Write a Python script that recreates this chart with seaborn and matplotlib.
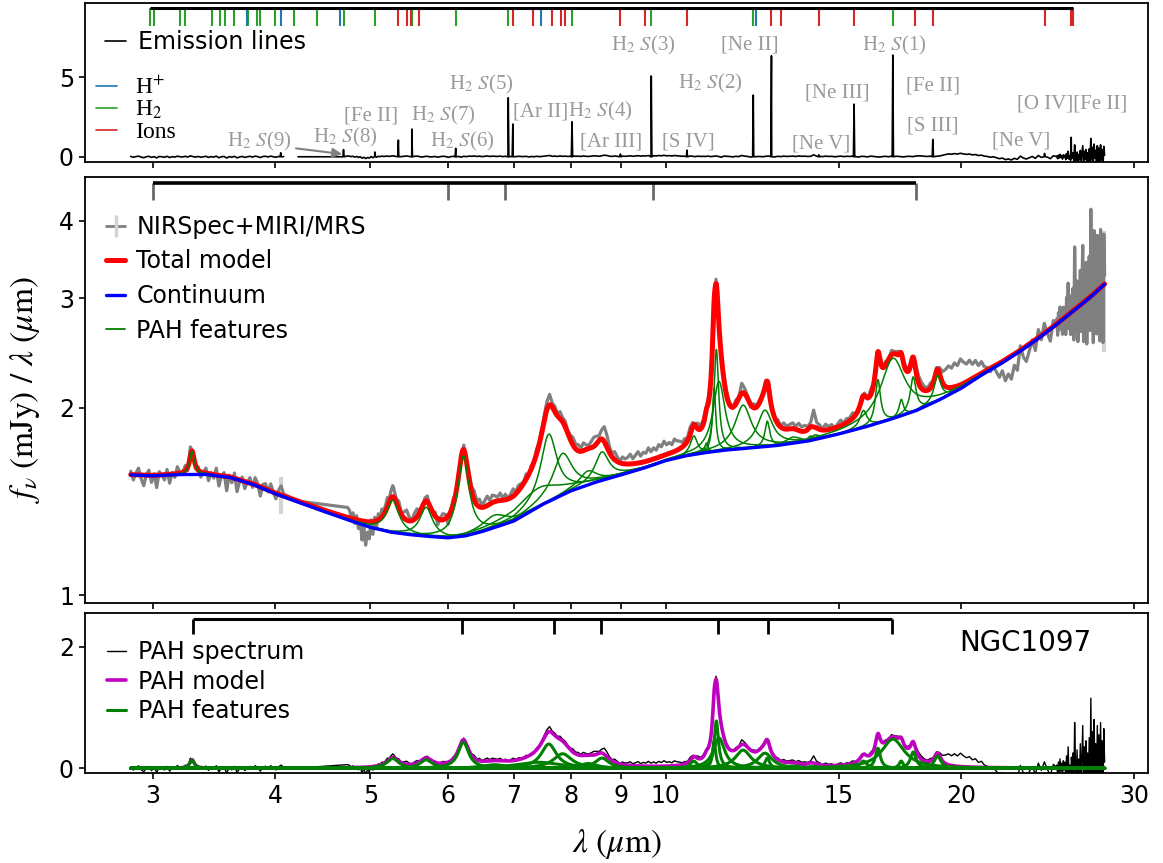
import numpy as np
import matplotlib
matplotlib.use("Agg")
import matplotlib.pyplot as plt
from matplotlib.lines import Line2D
from matplotlib.ticker import NullLocator
import seaborn as sns

# ---------------------------------------------------------------- data
# Fitted dust + stellar continuum, f_nu / lambda in mJy / um
cont_wave = [2.85, 3.0, 3.2, 3.4, 3.6, 3.8, 4.0, 4.25, 4.5, 4.75, 5.0, 5.25,
             5.5, 5.75, 6.0, 6.25, 6.5, 6.75, 7.0, 7.5, 8.0, 8.5, 9.0, 9.5,
             10.0, 10.5, 11.0, 11.5, 12.0, 13.0, 14.0, 15.0, 16.0, 17.0, 18.0,
             19.0, 20.0, 21.0, 22.0, 23.0, 24.0, 25.0, 26.0, 27.0, 28.0]
cont_flux = [1.560, 1.555, 1.562, 1.563, 1.545, 1.505, 1.455, 1.405, 1.360,
             1.320, 1.285, 1.262, 1.250, 1.242, 1.236, 1.245, 1.265, 1.290,
             1.315, 1.400, 1.470, 1.520, 1.560, 1.600, 1.645, 1.675, 1.695,
             1.710, 1.720, 1.740, 1.770, 1.815, 1.865, 1.920, 1.980, 2.060,
             2.150, 2.260, 2.360, 2.470, 2.590, 2.720, 2.860, 3.000, 3.160]

# PAH Drude components: centre (um), FWHM (um), peak (mJy / um)
pah_wave = [3.29, 5.27, 5.70, 6.22, 6.69, 7.42, 7.60, 7.85, 8.33, 8.61,
            10.68, 11.00, 11.20, 11.26, 11.33, 11.99, 12.62, 12.69, 13.48,
            14.04, 14.19, 15.90, 16.45, 17.04, 17.375, 17.87, 18.92]
pah_fwhm = [0.043, 0.179, 0.200, 0.187, 0.468, 0.935, 0.334, 0.416, 0.417,
            0.336, 0.214, 0.100, 0.100, 0.135, 0.363, 0.540, 0.530, 0.165,
            0.539, 0.225, 0.355, 0.318, 0.230, 1.108, 0.209, 0.286, 0.359]
pah_peak = [0.14, 0.16, 0.14, 0.43, 0.06, 0.10, 0.40, 0.24, 0.08, 0.17,
            0.12, 0.06, 0.45, 0.78, 0.50, 0.30, 0.25, 0.17, 0.04, 0.03,
            0.03, 0.12, 0.33, 0.48, 0.12, 0.27, 0.20]

# Observed spectrum: wavelength ranges of each chunk and the residual
# about the model in each chunk (units of 0.01 mJy / um)
seg_edges = [(2.85, 4.08), (4.22, 4.74), (4.76, 5.27), (5.28, 11.6),
             (11.62, 25.0), (25.03, 28.0)]
resid_nirspec_1 = [2, -3, 1, 4, -2, -6, 0, 3, -4, 1,
                   -7, 2, 0, -3, 3, -5, 1, -2, 4, 0,
                   -1, 3, -2, 6, 1, -2, 2, -3, 0, 3,
                   -4, 1, -2, 4, -6, 0, 2, -8, 1, -3,
                   3, -7, -1, 2, -4, 0, 3, -2, 4, 1,
                   -5, 2, 3, -1, 4, 0, -3, 2, 5, 1]
resid_nirspec_2 = [0, 5]
resid_nirspec_3 = [4, 1, 3, -2, 2, -4, 0, -9, -3, -11, -5, -8, 1, -6, 2,
                   -3, 3, 1, 4, 2, 3, 5, 2, 4, 6]
resid_miri_1 = [5, 2, 4, 1, 3, 5, 2, 0, 3, 4,
                1, -2, 2, 3, -1, 0, 2, -3, 1, 3,
                2, -4, 1, 3, 0, 2, -2, 3, 1, 4,
                3, 5, 2, 4, 1, 3, 5, 2, 4, 3,
                2, 4, 1, 3, 0, 2, 4, 1, 3, 2,
                1, 3, -1, 2, 0, 3, 1, 2, 4, 6,
                8, 3, 4, 2, 5, 3, 4, 2, 3, 5,
                3, 4, 2, 5, 3, 2, 4, 6, 5, 3,
                6, 10, 8, 4, 2, 5, 3, 1, 4, 3,
                4, 6, 3, 5, 7, 4, 6, 5, 8, 5,
                7, 5, 8, 6, 9, 6, 7, 5, 8, 6,
                5, 3, 4, 2, 5, 3, 1, 4, 2, 3,
                2, 4, 1, 3, 5, 2, -3, 4, 3, 2]
resid_miri_2 = [2, -1, 3, 1, 8, 4, 2, -2, 3, 1,
                2, 0, 3, 5, 2, -1, 3, 1, 4, 2,
                3, 4, 2, 5, 3, 4, 2, 3, 12, 4,
                3, 1, 4, 2, 3, 0, 2, 4, 1, 3,
                2, 4, 1, -2, 3, 2, -1, 4, 2, 0,
                -2, 1, 3, 0, 4, 2, 3, 1, -1, 2,
                3, 1, 4, 6, 5, 3, 2, 4, 1, 3,
                5, 9, 14, 18, 16, 20, 17, 22, 18, 15,
                17, 12, 14, 8, 10, 4, 2, -3, 0, -6,
                -12, -8, -18, -14, -20, -10, -16, 4, -8, -14,
                -6, 2, -10, 8, -4, 10, -2, -12, 6, 2]
resid_miri_3 = [5, -12, 10, -8, 15, -5, 8, -15, 12, -3,
                10, -18, 20, -10, 35, -15, 5, -22, 18, -8,
                25, -30, 75, 10, -25, 30, -35, 15, -20, 40,
                -28, 20, 70, -40, 35, -15, 45, -45, 25, -30,
                50, -35, 115, -20, 60, -50, 80, -10, 40, -45,
                70, -30, 55, -55, 75, -20, 45, -60, 65, 10]
resid_segments = [resid_nirspec_1, resid_nirspec_2, resid_nirspec_3,
                  resid_miri_1, resid_miri_2, resid_miri_3]

# Flux uncertainties shown as error bars (um, mJy / um)
err_wave = [4.05, 26.3, 26.6, 26.9, 27.1, 27.3, 27.5, 27.7, 27.85, 27.95]
err_size = [0.10, 0.20, 0.25, 0.30, 0.35, 0.40, 0.45, 0.45, 0.55, 0.70]

# Fitted emission lines (um, mJy / um)
line_wave = [4.052, 4.695, 5.053, 5.340, 5.511, 6.109, 6.910, 6.985, 8.025,
             8.991, 9.665, 10.511, 12.279, 12.814, 14.322, 15.555, 17.035,
             18.713, 24.318, 25.890]
line_height = [0.25, 0.45, 0.30, 1.05, 1.74, 0.53, 3.71, 2.06, 2.20, 0.17,
               5.08, 0.42, 3.88, 6.35, 0.12, 3.31, 6.40, 1.09, 0.21, 1.22]

# Line identifications marked along the top
hplus_lines = [3.7406, 4.0523, 4.6538, 7.4599, 12.372]
h2_lines = [2.98, 3.01, 3.20, 3.24, 3.45, 3.51, 3.555, 3.63, 3.75, 3.83,
            3.86, 3.996, 4.181, 4.41, 4.695, 5.053, 5.511, 6.109, 6.910,
            8.025, 9.665, 12.279, 17.035]
ion_lines = [5.340, 5.447, 5.503, 5.610, 6.985, 7.318, 7.652, 7.815, 7.902,
             8.991, 9.53, 10.511, 12.814, 13.10, 14.322, 15.555, 17.936,
             18.713, 24.318, 25.890, 25.988]

# Line names (text, wavelength of centre, baseline height)
label_text = ["H$_2$ $S$(9)", "H$_2$ $S$(8)", "[Fe II]", "H$_2$ $S$(7)",
              "H$_2$ $S$(6)", "H$_2$ $S$(5)", "[Ar II]", "H$_2$ $S$(4)",
              "[Ar III]", "H$_2$ $S$(3)", "[S IV]", "H$_2$ $S$(2)",
              "[Ne II]", "[Ne V]", "[Ne III]", "H$_2$ $S$(1)", "[Fe II]",
              "[S III]", "[Ne V]", "[O IV][Fe II]"]
label_wave = [3.85, 4.71, 5.01, 5.93, 6.20, 6.48, 7.46, 8.57, 8.80, 9.48,
              10.54, 11.10, 12.17, 14.40, 14.97, 17.10, 18.70, 18.70, 23.0,
              25.97]
label_level = [0.63, 0.88, 2.27, 2.27, 0.63, 4.24, 2.52, 2.52, 0.63, 6.72,
               0.63, 4.31, 6.72, 0.53, 3.74, 6.72, 4.20, 1.64, 0.74, 3.05]

# Absorption features (middle) and main PAH bands (bottom)
absorption_marks = [3.0, 6.0, 6.85, 9.7, 18.0]
pah_marks = [3.3, 6.2, 7.7, 8.6, 11.3, 12.7, 17.0]

xticks = [3, 4, 5, 6, 7, 8, 9, 10, 15, 20, 30]

# ---------------------------------------------------------------- model
def drude(w, w0, fwhm, peak):
    g = fwhm / w0
    return peak * g ** 2 / ((w / w0 - w0 / w) ** 2 + g ** 2)


def continuum(w):
    return np.exp(np.interp(np.log(w), np.log(cont_wave), np.log(cont_flux)))


def pah_sum(w):
    return np.sum([drude(w, a, b, c) for a, b, c in
                   zip(pah_wave, pah_fwhm, pah_peak)], axis=0)


wave = np.geomspace(cont_wave[0], cont_wave[-1], 4000)
features = [drude(wave, a, b, c) for a, b, c in zip(pah_wave, pah_fwhm, pah_peak)]
pah_model = np.sum(features, axis=0)
cont_model = continuum(wave)
total_model = cont_model + pah_model

obs_wave = np.concatenate([np.geomspace(lo, hi, len(r))
                           for (lo, hi), r in zip(seg_edges, resid_segments)])
obs_res = 0.01 * np.concatenate([np.asarray(r, float) for r in resid_segments])
obs_pah = pah_sum(obs_wave) + obs_res
obs_flux = continuum(obs_wave) + obs_pah

# emission-line spectrum: residual baseline plus the fitted lines
em_w = list(obs_wave) + [0.5 * (seg_edges[0][1] + seg_edges[1][0])]
em_f = list(obs_res) + [np.nan]
for w0, h in zip(line_wave, line_height):
    em_w += [w0 * (1 - 1.5e-3), w0, w0 * (1 + 1.5e-3)]
    em_f += [0.0, h, 0.0]
order = np.argsort(em_w)
em_w = np.asarray(em_w)[order]
em_f = np.asarray(em_f)[order]

# ---------------------------------------------------------------- style
sns.set_style("ticks")
plt.rcParams.update({
    "font.family": ["DejaVu Sans"],
    "mathtext.fontset": "stix",
    "axes.edgecolor": "black",
    "axes.linewidth": 1.3,
    "text.color": "black",
    "axes.labelcolor": "black",
    "xtick.color": "black",
    "ytick.color": "black",
    "xtick.labelsize": 17,
    "ytick.labelsize": 17,
    "xtick.major.size": 4.5,
    "ytick.major.size": 4.5,
    "xtick.major.width": 1.2,
    "ytick.major.width": 1.2,
    "xtick.direction": "out",
    "ytick.direction": "out",
})

fig = plt.figure(figsize=(11.63, 8.63), dpi=100)
L, W = 0.0731, 0.914
ax_top = fig.add_axes([L, 0.8119, W, 0.1843])
ax_mid = fig.add_axes([L, 0.3013, W, 0.4936])
ax_bot = fig.add_axes([L, 0.1046, W, 0.1854])

for ax in (ax_top, ax_mid, ax_bot):
    ax.set_xscale("log")
    ax.set_xlim(2.56, 31.0)
    ax.set_xticks(xticks)
    ax.xaxis.set_minor_locator(NullLocator())
    for sp in ax.spines.values():
        sp.set_visible(True)
        sp.set_color("black")
ax_top.set_xticklabels([])
ax_mid.set_xticklabels([])
ax_bot.set_xticklabels([str(t) for t in xticks])

# ---------------------------------------------------------------- top panel
ax_top.plot(em_w, em_f, color="black", lw=1.2, zorder=2)
ttop = ax_top.get_xaxis_transform()
for lst, col in ((h2_lines, "tab:green"), (hplus_lines, "tab:blue"),
                 (ion_lines, "tab:red")):
    ax_top.vlines(lst, 0.857, 0.969, colors=col, lw=1.5, transform=ttop)
all_marks = h2_lines + hplus_lines + ion_lines
ax_top.plot([min(all_marks), max(all_marks)], [0.969, 0.969], color="black",
            lw=2.2, transform=ttop, solid_capstyle="butt")
for txt, w0, lv in zip(label_text, label_wave, label_level):
    ax_top.text(w0, lv, txt, ha="center", va="baseline", color="#9a9a9a",
                fontsize=15, family="Liberation Serif")
ax_top.annotate("", xy=(4.68, 0.17), xytext=(4.2, 0.53),
                arrowprops=dict(arrowstyle="-|>", color="gray", lw=1.5,
                                mutation_scale=14, shrinkA=0, shrinkB=0))
ax_top.set_ylim(-0.35, 9.66)
ax_top.set_yticks([0, 5])
ax_top.set_yticklabels(["0", "5"])

leg1 = ax_top.legend(handles=[Line2D([], [], color="black", lw=1.2)],
                     labels=["Emission lines"], loc="center left",
                     bbox_to_anchor=(0.010, 0.757), borderaxespad=0,
                     frameon=False, fontsize=17, handlelength=0.9,
                     handletextpad=0.5)
ax_top.add_artist(leg1)
ax_top.legend(handles=[Line2D([], [], color="tab:blue", lw=1.2),
                       Line2D([], [], color="tab:green", lw=1.2),
                       Line2D([], [], color="tab:red", lw=1.2)],
              labels=["H$^{+}$", "H$_2$", "Ions"], loc="center left",
              bbox_to_anchor=(0.0015, 0.33), borderaxespad=0, frameon=False,
              prop=dict(family="Liberation Serif", size=17),
              handlelength=0.9, handletextpad=0.75, labelspacing=0.0)

# ---------------------------------------------------------------- middle panel
err_y = continuum(np.asarray(err_wave)) + pah_sum(np.asarray(err_wave))
ax_mid.errorbar(err_wave, err_y, yerr=err_size, fmt="none", ecolor="lightgray",
                elinewidth=3, zorder=0.5)
ax_mid.plot(obs_wave, obs_flux, color="gray", lw=2.3, zorder=1)
sns.lineplot(x=wave, y=total_model, color="red", lw=3.6, ax=ax_mid,
             zorder=2, sort=False, estimator=None)
for f in features:
    ax_mid.plot(wave, cont_model + f, color="green", lw=1.1, zorder=3)
sns.lineplot(x=cont_wave, y=cont_flux, color="blue", lw=2.4, ax=ax_mid,
             zorder=4, sort=False, estimator=None)

tmid = ax_mid.get_xaxis_transform()
ax_mid.vlines(absorption_marks, 0.946, 0.986, colors="dimgray", lw=2,
              transform=tmid)
ax_mid.plot([absorption_marks[0], absorption_marks[-1]], [0.986, 0.986],
            color="black", lw=2.6, transform=tmid, solid_capstyle="butt")

ax_mid.set_yscale("log")
ax_mid.set_ylim(0.971, 4.70)
ax_mid.set_yticks([1, 2, 3, 4])
ax_mid.set_yticklabels(["1", "2", "3", "4"])
ax_mid.yaxis.set_minor_locator(NullLocator())
ax_mid.set_ylabel(r"$f_\nu\ (\mathrm{mJy})\ /\ \lambda\ (\mu\mathrm{m})$",
                  fontsize=24)
ax_mid.yaxis.set_label_coords(-0.0408, 0.5)

spec_handle = (Line2D([], [], color="gray", lw=2),
               Line2D([], [], color="lightgray", marker="|", ms=16, mew=2.5,
                      ls="none"))
ax_mid.legend(handles=[spec_handle,
                       Line2D([], [], color="red", lw=3.6),
                       Line2D([], [], color="blue", lw=2.4),
                       Line2D([], [], color="green", lw=1.3)],
              labels=["NIRSpec+MIRI/MRS", "Total model", "Continuum",
                      "PAH features"],
              loc="center left", bbox_to_anchor=(0.011, 0.761),
              borderaxespad=0, frameon=False, fontsize=17, handlelength=0.8,
              handletextpad=0.47, labelspacing=0.45)

# ---------------------------------------------------------------- bottom panel
ax_bot.plot(obs_wave, obs_pah, color="black", lw=1.0, zorder=1)
sns.lineplot(x=wave, y=pah_model, color="m", lw=2.6, ax=ax_bot, zorder=2,
             sort=False, estimator=None)
for f in features:
    ax_bot.plot(wave, f, color="green", lw=2.2, zorder=3)

tbot = ax_bot.get_xaxis_transform()
ax_bot.vlines(pah_marks, 0.865, 0.959, colors="black", lw=2, transform=tbot)
ax_bot.plot([pah_marks[0], pah_marks[-1]], [0.959, 0.959], color="black",
            lw=2.2, transform=tbot, solid_capstyle="butt")
ax_bot.text(0.947, 0.81, "NGC1097", transform=ax_bot.transAxes, ha="right",
            va="center", fontsize=20)

ax_bot.set_ylim(-0.072, 2.56)
ax_bot.set_yticks([0, 2])
ax_bot.set_yticklabels(["0", "2"])
ax_bot.set_xlabel(r"$\lambda\ (\mu\mathrm{m})$", fontsize=24)
ax_bot.xaxis.set_label_coords(0.5, -0.337)
ax_bot.legend(handles=[Line2D([], [], color="black", lw=1.0),
                       Line2D([], [], color="m", lw=2.6),
                       Line2D([], [], color="green", lw=2.2)],
              labels=["PAH spectrum", "PAH model", "PAH features"],
              loc="center left", bbox_to_anchor=(0.012, 0.569),
              borderaxespad=0, frameon=False, fontsize=17, handlelength=0.8,
              handletextpad=0.49, labelspacing=0.22)

fig.savefig("out.png", dpi=100)
